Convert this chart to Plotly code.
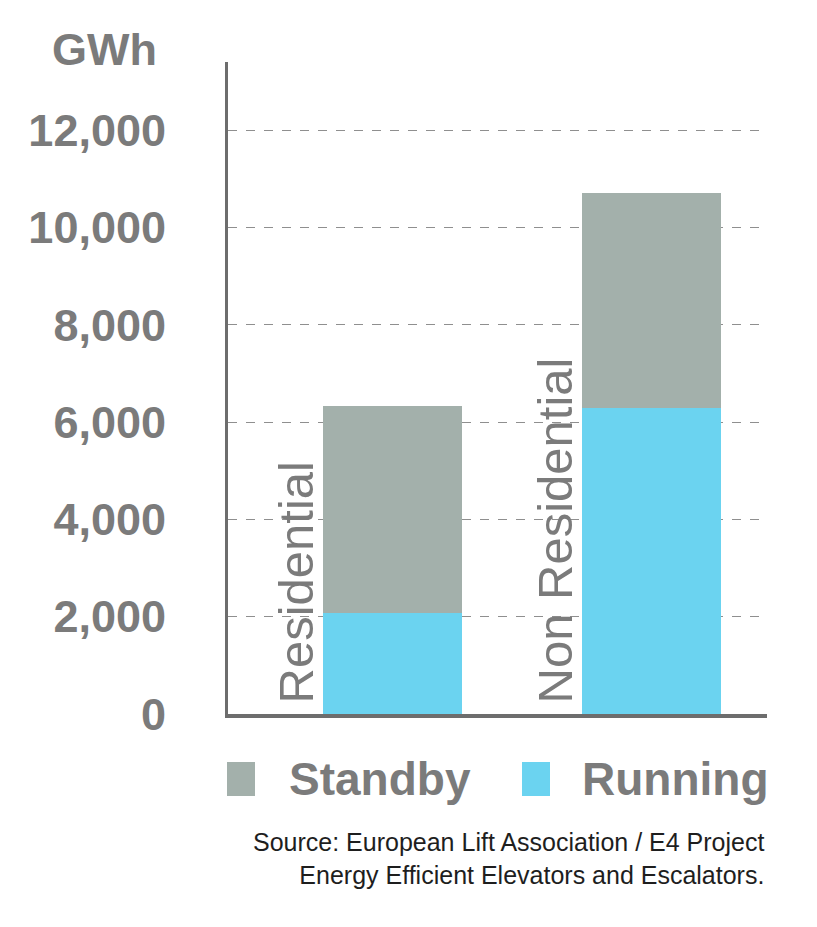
import plotly.graph_objects as go

categories = ["Residential", "Non Residential"]
running = [2070, 6280]
standby = [4250, 4420]  # totals ~6320 and ~10700
series_names = ["Standby", "Running"]
tick_vals = [0, 2000, 4000, 6000, 8000, 10000, 12000]
tick_text = ["0", "2,000", "4,000", "6,000", "8,000", "10,000", "12,000"]

C_STANDBY = "#a3b0ab"
C_RUNNING = "#6bd3f0"
C_TEXT = "#7b7b7b"
C_AXIS = "#6d6d6d"

OFF = 8  # page body margin
W, H = 817, 927
L, R, T, B = 228 - OFF, 50 + OFF, 62 - OFF, 213 + OFF
PW, PH = W - L - R, H - T - B

def px(x):
    return (x - OFF - L) / PW

def py(y):
    return (H - B - (y - OFF)) / PH

xs = list(range(len(categories)))

fig = go.Figure()
fig.add_bar(x=xs, y=running, name="Running", marker=dict(color=C_RUNNING, line=dict(width=0)))
fig.add_bar(x=xs, y=standby, name="Standby", marker=dict(color=C_STANDBY, line=dict(width=0)))

annotations = []
for i, c in enumerate(categories):
    annotations.append(dict(x=i, y=0, xref="x", yref="y", text=c, textangle=-90,
                            showarrow=False, xanchor="center", yanchor="bottom",
                            xshift=-96, yshift=9,
                            font=dict(family="Liberation Sans, Arial", size=49, color=C_TEXT)))

annotations.append(dict(x=px(104), y=py(49), xref="paper", yref="paper", text="<b>GWh</b>",
                        showarrow=False, xanchor="center", yanchor="middle",
                        font=dict(family="Liberation Sans, Arial", size=45, color=C_TEXT)))

# custom legend
shapes = []
legend_items = [(series_names[0], C_STANDBY, 227, 287), (series_names[1], C_RUNNING, 522, 580)]
for name, col, sx, tx in legend_items:
    shapes.append(dict(type="rect", xref="paper", yref="paper",
                       x0=px(sx), x1=px(sx + 28), y0=py(796), y1=py(762),
                       fillcolor=col, line=dict(width=0)))
    annotations.append(dict(x=px(tx), y=py(779), xref="paper", yref="paper",
                            text="<b>" + name + "</b>", showarrow=False,
                            xanchor="left", yanchor="middle",
                            font=dict(family="Liberation Sans, Arial", size=46, color=C_TEXT)))

annotations.append(dict(x=px(766), y=py(826), xref="paper", yref="paper",
                        text="Source: European Lift Association / E4 Project<br>Energy Efficient Elevators and Escalators.",
                        showarrow=False, xanchor="right", yanchor="top", align="right",
                        font=dict(family="Liberation Sans, Arial", size=25, color="#1e1e1e")))

fig.update_layout(
    width=W, height=H,
    margin=dict(l=L, r=R, t=T, b=B, pad=0),
    paper_bgcolor="white", plot_bgcolor="white",
    barmode="stack", bargap=0.463,
    showlegend=False,
    annotations=annotations,
    shapes=shapes,
    xaxis=dict(range=[-0.635, 1.446], showticklabels=False, ticks="",
               showgrid=False, zeroline=False,
               showline=True, linecolor=C_AXIS, linewidth=4),
    yaxis=dict(range=[0, 13400], tickvals=tick_vals, ticktext=tick_text,
               ticks="", ticklabelstandoff=50,
               tickfont=dict(family="Liberation Sans, Arial", size=45, color=C_TEXT, weight="bold"),
               showgrid=True, gridcolor="#8f8f8f", griddash="dash", gridwidth=1,
               zeroline=False, showline=True, linecolor=C_AXIS, linewidth=3),
)

fig.write_html("out.html")
